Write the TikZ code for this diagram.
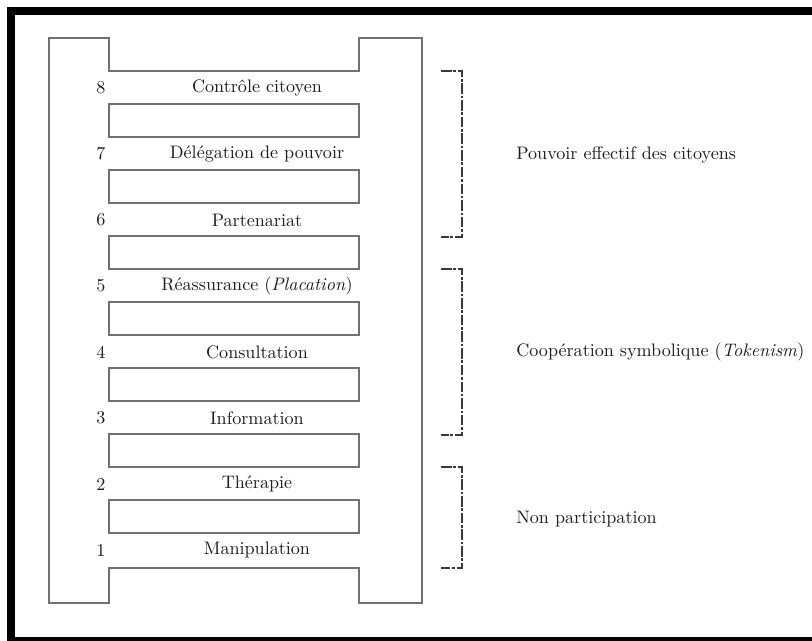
\documentclass[tikz,border=0pt]{standalone}
\usepackage{tikz}
\usetikzlibrary{positioning}

\begin{document}
\begin{tikzpicture}[x=0.02cm,y=-0.02cm]
       \tikzstyle{rail}=[draw={rgb:black,5;white,4},line width=0.9pt]
       \tikzstyle{rung}=[draw={rgb:black,5;white,4},line width=0.9pt]
       \tikzstyle{level}=[text={rgb:black,8;white,1},inner sep=0pt,
         font=\fontsize{10.3}{12}\selectfont]
       \tikzstyle{groupline}=[draw={rgb:black,7;white,2},line width=0.7pt,
         dash pattern=on 6pt off 1pt on 1.5pt off 1pt]

       \useasboundingbox (0,0) rectangle (812,641);
       \fill[black] (7,7) rectangle (812,15);
       \fill[black] (7,7) rectangle (15,641);
       \fill[black] (7,637) rectangle (812,641);

       % ladder
       \path[rail] (49,38) -- (109,38) -- (109,71) -- (359,71) -- (359,38)
         -- (422,38) -- (422,603) -- (359,603) -- (359,568) -- (109,568)
         -- (109,603) -- (49,603) -- cycle;
       \foreach \i in {0,...,6}
         \path[rung] (109,104+66*\i) rectangle (359,137+66*\i);

       % levels
       \foreach \n/\txt [count=\i from 0] in {8/Contrôle citoyen,
           7/Délégation de pouvoir, 6/Partenariat,
           5/Réassurance (\textit{Placation}), 4/Consultation,
           3/Information, 2/Thérapie, 1/Manipulation}
       {
         \node[level] (num\n) at (101,88+66*\i) {\n};
         \node[level] (lbl\n) at (257,88+66*\i) {\txt};
       }

       % groups
       \path[groupline] (441,71) -- (462,71) -- (462,237) -- (441,237);
       \path[groupline] (441,269) -- (462,269) -- (462,435) -- (441,435);
       \path[groupline] (441,467) -- (462,467) -- (462,568) -- (441,568);

       \node[level,anchor=west] (pouvoir) at (516,155) {Pouvoir effectif des citoyens};
       \node[level,anchor=west] (symbol) at (516,352) {Coopération symbolique (\textit{Tokenism})};
       \node[level,anchor=west] (nonpart) at (516,519) {Non participation};
     \end{tikzpicture}
\end{document}
